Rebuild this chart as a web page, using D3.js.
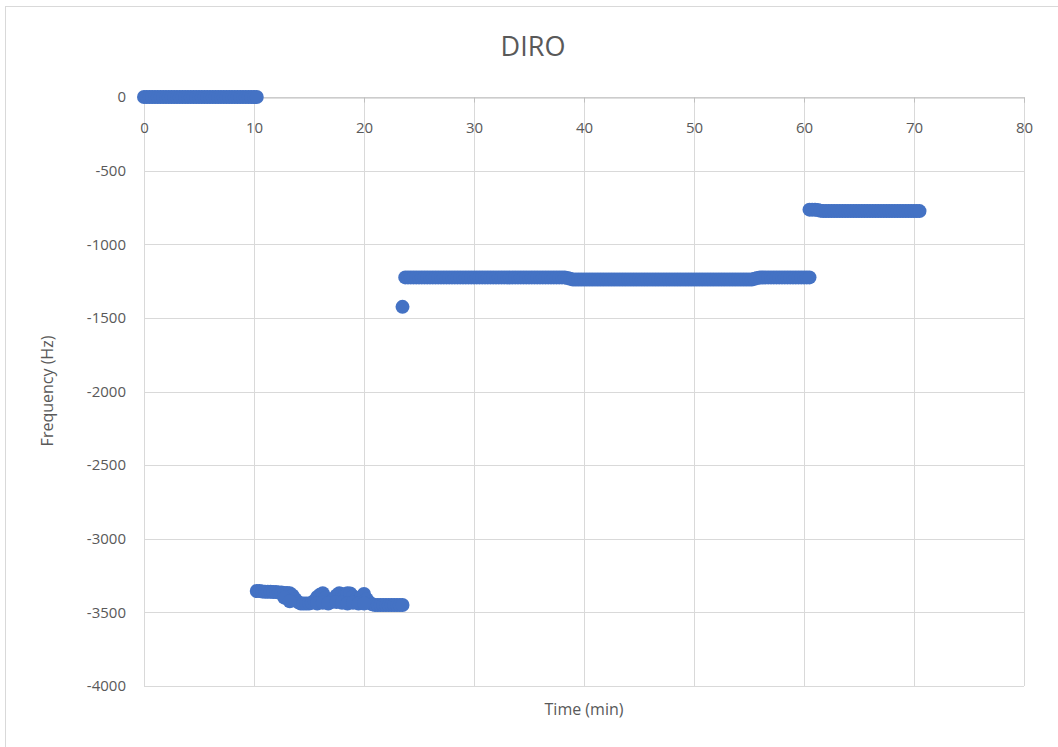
<!DOCTYPE html>
<html>
<head>
<meta charset="utf-8">
<script src="https://cdn.jsdelivr.net/npm/d3@7/dist/d3.min.js"></script>
<style>
  html, body { margin: 0; padding: 0; background: #ffffff; }
  svg { display: block; }
  text { font-family: "Open Sans", "Noto Sans", sans-serif; fill: #595959; }
</style>
</head>
<body>
<svg id="chart" width="1058" height="747"></svg>
<script>
// DIRO frequency log, sampled every 15 s: time in minutes, frequency offset in Hz

// stage 1 — locked at zero
const stage1Time = [
  0, 0.25, 0.5, 0.75, 1, 1.25, 1.5, 1.75, 2, 2.25,
  2.5, 2.75, 3, 3.25, 3.5, 3.75, 4, 4.25, 4.5, 4.75,
  5, 5.25, 5.5, 5.75, 6, 6.25, 6.5, 6.75, 7, 7.25,
  7.5, 7.75, 8, 8.25, 8.5, 8.75, 9, 9.25, 9.5, 9.75,
  10, 10.25
];
const stage1Freq = [
  0, 0, 0, 0, 0, 0, 0, 0, 0, 0,
  0, 0, 0, 0, 0, 0, 0, 0, 0, 0,
  0, 0, 0, 0, 0, 0, 0, 0, 0, 0,
  0, 0, 0, 0, 0, 0, 0, 0, 0, 0,
  0, 0
];

// stage 2 — hopping between two levels near -3400
const stage2Time = [
  10.25, 10.5, 10.75, 11, 11.25, 11.5, 11.75, 12, 12.25, 12.5,
  12.75, 13, 13.25, 13.5, 13.75, 14, 14.25, 14.5, 14.75, 15,
  15.25, 15.5, 15.75, 16, 16.25, 16.5, 16.75, 17, 17.25, 17.5,
  17.75, 18, 18.25, 18.5, 18.75, 19, 19.25, 19.5, 19.75, 20,
  20.25, 20.5, 20.75, 21, 21.25, 21.5, 21.75, 22, 22.25, 22.5,
  22.75, 23, 23.25, 23.5,
  12.75, 13.25, 15.75, 16.25, 16.75, 17.5, 18, 18.5, 19, 19.5, 20
];
const stage2Freq = [
  -3355, -3355, -3358, -3360, -3360, -3360, -3362, -3362, -3365, -3365,
  -3368, -3368, -3370, -3385, -3410, -3430, -3440, -3440, -3440, -3440,
  -3435, -3420, -3395, -3380, -3370, -3400, -3425, -3430, -3410, -3385,
  -3370, -3375, -3380, -3370, -3372, -3390, -3415, -3420, -3395, -3375,
  -3410, -3435, -3445, -3450, -3450, -3450, -3450, -3450, -3450, -3450,
  -3450, -3450, -3450, -3450,
  -3400, -3425, -3440, -3435, -3440, -3430, -3435, -3440, -3435, -3440, -3440
];

// single reading during the jump
const outlierTime = [23.5];
const outlierFreq = [-1425];

// stage 3 — settled near -1230
const stage3Time = [
  23.75, 24, 24.25, 24.5, 24.75, 25, 25.25, 25.5, 25.75, 26,
  26.25, 26.5, 26.75, 27, 27.25, 27.5, 27.75, 28, 28.25, 28.5,
  28.75, 29, 29.25, 29.5, 29.75, 30, 30.25, 30.5, 30.75, 31,
  31.25, 31.5, 31.75, 32, 32.25, 32.5, 32.75, 33, 33.25, 33.5,
  33.75, 34, 34.25, 34.5, 34.75, 35, 35.25, 35.5, 35.75, 36,
  36.25, 36.5, 36.75, 37, 37.25, 37.5, 37.75, 38, 38.25, 38.5,
  38.75, 39, 39.25, 39.5, 39.75, 40, 40.25, 40.5, 40.75, 41,
  41.25, 41.5, 41.75, 42, 42.25, 42.5, 42.75, 43, 43.25, 43.5,
  43.75, 44, 44.25, 44.5, 44.75, 45, 45.25, 45.5, 45.75, 46,
  46.25, 46.5, 46.75, 47, 47.25, 47.5, 47.75, 48, 48.25, 48.5,
  48.75, 49, 49.25, 49.5, 49.75, 50, 50.25, 50.5, 50.75, 51,
  51.25, 51.5, 51.75, 52, 52.25, 52.5, 52.75, 53, 53.25, 53.5,
  53.75, 54, 54.25, 54.5, 54.75, 55, 55.25, 55.5, 55.75, 56,
  56.25, 56.5, 56.75, 57, 57.25, 57.5, 57.75, 58, 58.25, 58.5,
  58.75, 59, 59.25, 59.5, 59.75, 60, 60.25, 60.5
];
const stage3Freq = [
  -1225, -1225, -1225, -1225, -1225, -1225, -1225, -1225, -1225, -1225,
  -1225, -1225, -1225, -1225, -1225, -1225, -1225, -1225, -1225, -1225,
  -1225, -1225, -1225, -1225, -1225, -1225, -1225, -1225, -1225, -1225,
  -1225, -1225, -1225, -1225, -1225, -1225, -1225, -1225, -1225, -1225,
  -1225, -1225, -1225, -1225, -1225, -1225, -1225, -1225, -1225, -1225,
  -1225, -1225, -1225, -1225, -1225, -1225, -1225, -1225, -1225, -1230,
  -1235, -1240, -1240, -1240, -1240, -1240, -1240, -1240, -1240, -1240,
  -1240, -1240, -1240, -1240, -1240, -1240, -1240, -1240, -1240, -1240,
  -1240, -1240, -1240, -1240, -1240, -1240, -1240, -1240, -1240, -1240,
  -1240, -1240, -1240, -1240, -1240, -1240, -1240, -1240, -1240, -1240,
  -1240, -1240, -1240, -1240, -1240, -1240, -1240, -1240, -1240, -1240,
  -1240, -1240, -1240, -1240, -1240, -1240, -1240, -1240, -1240, -1240,
  -1240, -1240, -1240, -1240, -1240, -1240, -1240, -1235, -1230, -1225,
  -1225, -1225, -1225, -1225, -1225, -1225, -1225, -1225, -1225, -1225,
  -1225, -1225, -1225, -1225, -1225, -1225, -1225, -1225
];

// stage 4 — settled near -775
const stage4Time = [
  60.5, 60.75, 61, 61.25, 61.5, 61.75, 62, 62.25, 62.5, 62.75,
  63, 63.25, 63.5, 63.75, 64, 64.25, 64.5, 64.75, 65, 65.25,
  65.5, 65.75, 66, 66.25, 66.5, 66.75, 67, 67.25, 67.5, 67.75,
  68, 68.25, 68.5, 68.75, 69, 69.25, 69.5, 69.75, 70, 70.25,
  70.5
];
const stage4Freq = [
  -765, -765, -765, -768, -772, -775, -775, -775, -775, -775,
  -775, -775, -775, -775, -775, -775, -775, -775, -775, -775,
  -775, -775, -775, -775, -775, -775, -775, -775, -775, -775,
  -775, -775, -775, -775, -775, -775, -775, -775, -775, -775,
  -775
];

const xTicks = [0, 10, 20, 30, 40, 50, 60, 70, 80];
const yTicks = [0, -500, -1000, -1500, -2000, -2500, -3000, -3500, -4000];

const svg = d3.select("#chart");
const W = 1058, H = 747;

// chart frame
svg.append("rect")
  .attr("x", 5.5).attr("y", 6.5)
  .attr("width", W + 10).attr("height", H + 10)
  .attr("fill", "#ffffff").attr("stroke", "#d9d9d9").attr("stroke-width", 1);

const x = d3.scaleLinear().domain([0, 80]).range([144, 1024]);
const y = d3.scaleLinear().domain([-4000, 0]).range([686, 97]);

// gridlines
const grid = svg.append("g").attr("stroke", "#d9d9d9").attr("stroke-width", 1);
grid.selectAll("line.h").data(yTicks).join("line")
  .attr("class", "h")
  .attr("x1", x(0)).attr("x2", x(80))
  .attr("y1", d => Math.round(y(d)) + 0.5).attr("y2", d => Math.round(y(d)) + 0.5);
grid.selectAll("line.v").data(xTicks).join("line")
  .attr("class", "v")
  .attr("y1", y(0)).attr("y2", y(-4000))
  .attr("x1", d => Math.round(x(d)) + 0.5).attr("x2", d => Math.round(x(d)) + 0.5);

// horizontal axis runs along zero, labels beneath it
const xAxis = d3.axisBottom(x).tickValues(xTicks).tickSize(5).tickPadding(20).tickFormat(d => String(d));
const gx = svg.append("g")
  .attr("transform", `translate(0,${Math.round(y(0)) + 0.5})`)
  .call(xAxis);
gx.select(".domain").attr("stroke", "#bfbfbf");
gx.selectAll(".tick line").attr("stroke", "#bfbfbf");
gx.selectAll(".tick text")
  .attr("font-size", 15).attr("fill", "#595959")
  .attr("font-family", "Open Sans, sans-serif");

// vertical axis labels
const yAxis = d3.axisLeft(y).tickValues(yTicks).tickSize(0).tickPadding(18).tickFormat(d => String(d));
const gy = svg.append("g")
  .attr("transform", `translate(${x(0)},0)`)
  .call(yAxis);
gy.select(".domain").remove();
gy.selectAll(".tick text")
  .attr("font-size", 15).attr("fill", "#595959")
  .attr("font-family", "Open Sans, sans-serif");

// data points
const times = [].concat(stage1Time, stage2Time, outlierTime, stage3Time, stage4Time);
const freqs = [].concat(stage1Freq, stage2Freq, outlierFreq, stage3Freq, stage4Freq);
const pts = times.map((t, i) => ({ t, f: freqs[i] }));
svg.append("g").selectAll("circle").data(pts).join("circle")
  .attr("cx", d => x(d.t))
  .attr("cy", d => y(d.f))
  .attr("r", 7)
  .attr("fill", "#4472c4");

// title and axis titles
svg.append("text")
  .attr("x", 533).attr("y", 56)
  .attr("text-anchor", "middle")
  .attr("font-size", 27)
  .text("DIRO");

svg.append("text")
  .attr("x", 584).attr("y", 715)
  .attr("text-anchor", "middle")
  .attr("font-size", 16)
  .text("Time (min)");

svg.append("text")
  .attr("transform", "translate(53,391) rotate(-90)")
  .attr("text-anchor", "middle")
  .attr("font-size", 16)
  .text("Frequency (Hz)");
</script>
</body>
</html>
